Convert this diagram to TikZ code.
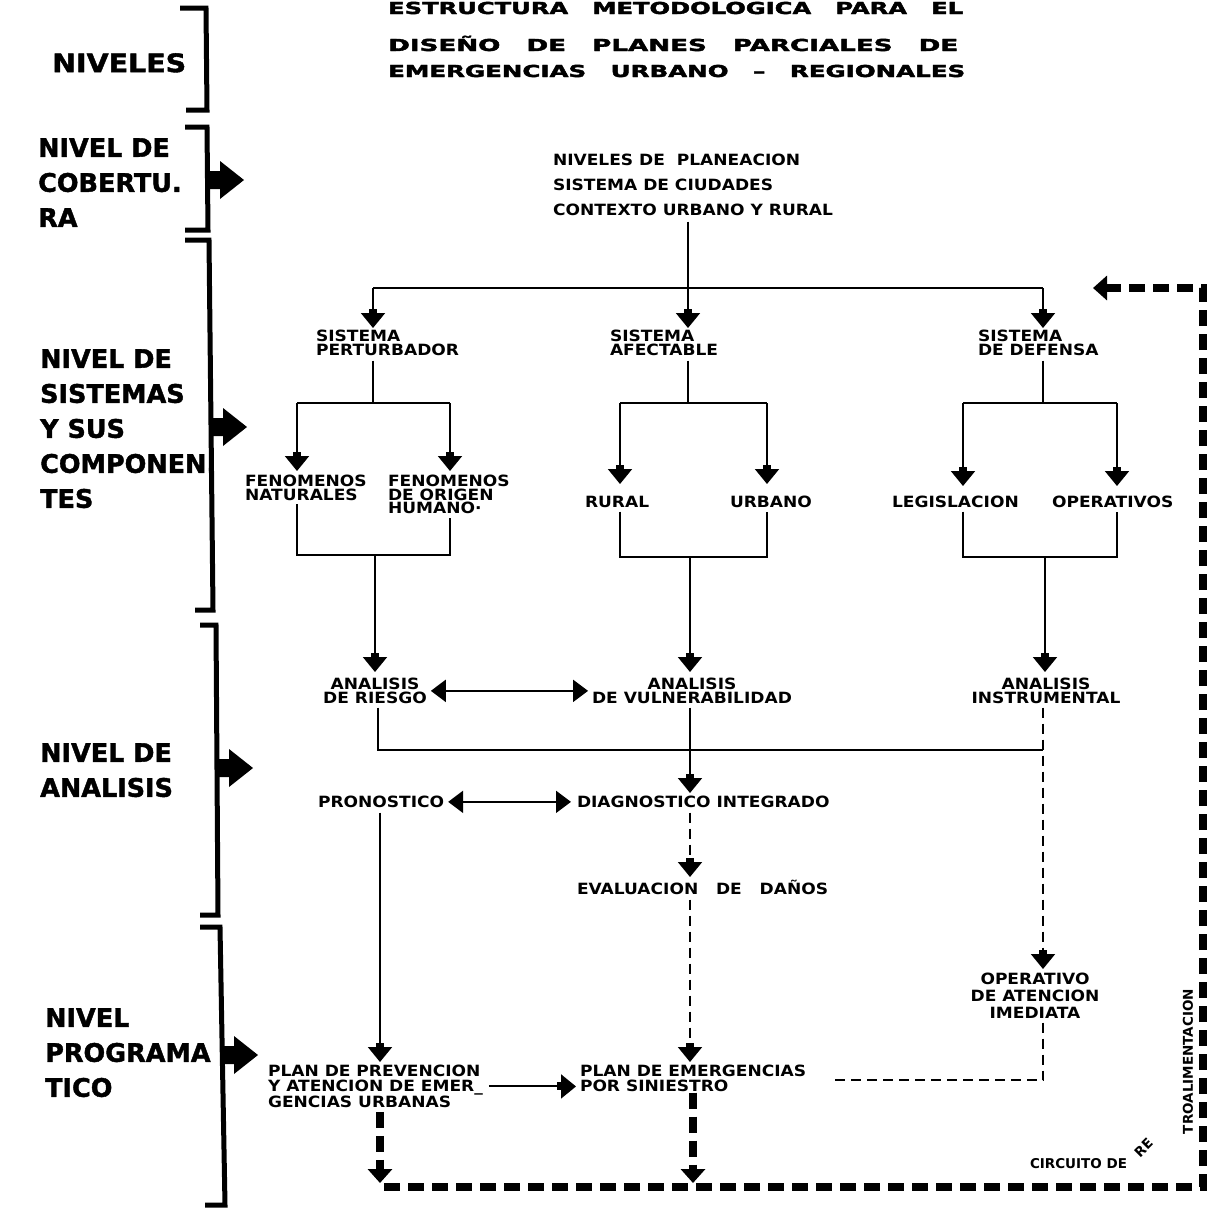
\documentclass[tikz,border=0pt]{standalone}
\usepackage{fontspec}
\usepackage{graphicx}
\usetikzlibrary{arrows.meta}
\newfontfamily\smf{DejaVu Sans}[FakeStretch=1.1]
\newfontfamily\smn{DejaVu Sans}
\newfontfamily\bgf{DejaVu Sans}[BoldFeatures={FakeBold=1.6}]
\newfontfamily\tif{DejaVu Sans}[BoldFeatures={FakeBold=2}]
\begin{document}
\begin{tikzpicture}[x=1pt,y=-1pt,
  txt/.style={inner sep=0pt, outer sep=0pt, align=left, anchor=north west, font=\smf\bfseries\fontsize{15.5}{#1}\selectfont},
  txt/.default=14,
  txtc/.style={txt=#1, align=center, anchor=north},
  txtc/.default=14,
  tsm/.style={inner sep=0pt, outer sep=0pt, font=\smn\bfseries\fontsize{13.5}{14}\selectfont},
  lbl/.style={inner sep=0pt, align=left, anchor=north west, font=\bgf\bfseries\fontsize{25.5}{35}\selectfont},
  ttl/.style={inner sep=0pt, anchor=base west, font=\tif\bfseries\fontsize{16.5}{16.5}\selectfont},
  brk/.style={line width=5pt},
  ln/.style={line width=2pt},
  dln/.style={line width=2pt, dash pattern=on 10pt off 6pt},
  arr/.style={line width=2pt, -{Rectangle[width=8pt,length=4pt,sep=0pt]Triangle[width=24pt,length=15pt]}},
  arrd/.style={arr, dash pattern=on 10pt off 6pt},
  darr/.style={line width=2pt, {Triangle[width=22pt,length=15pt]}-{Triangle[width=22pt,length=15pt]}},
  tdl/.style={line width=8pt, dash pattern=on 16pt off 8pt},
  tarr/.style={tdl, -{Triangle[width=24pt,length=14pt]}},
  barrow/.pic={\fill (0,-9) -- (12,-9) -- (12,-19) -- (36,0) -- (12,19) -- (12,9) -- (0,9) -- cycle;}
]
\useasboundingbox (0,0) rectangle (1219,1211);
\clip (0,0) rectangle (1219,1211);

% title
\node[ttl] (ti1) at (388,14) {\resizebox{575pt}{\height}{ESTRUCTURA\hskip1em METODOLOGICA\hskip1em PARA\hskip1em EL}};
\node[ttl] (ti2) at (388,51) {\resizebox{570pt}{\height}{DISEÑO\hskip1em DE\hskip1em PLANES\hskip1em PARCIALES\hskip1em DE}};
\node[ttl] (ti3) at (388,77) {\resizebox{577pt}{\height}{EMERGENCIAS\hskip1em URBANO\hskip1em –\hskip1em REGIONALES}};

% level labels
\node[lbl] (lv0) at (52,53) {\resizebox{134pt}{\height}{NIVELES}};
\node[lbl] (lv1) at (38,138) {NIVEL DE\\COBERTU.\\RA};
\node[lbl] (lv2) at (40,349) {NIVEL DE\\SISTEMAS\\Y SUS\\COMPONEN.\\TES};
\node[lbl] (lv3) at (40,743) {NIVEL DE\\ANALISIS};
\node[lbl] (lv4) at (45,1008) {NIVEL\\PROGRAMA\\TICO};

% brackets
\draw[brk] (180,8) -- (206,8) -- (207,110) -- (186,110);
\draw[brk] (185,127) -- (207,127) -- (208,230) -- (185,230);
\draw[brk] (185,240) -- (209,240) -- (213,610) -- (195,610);
\draw[brk] (200,625) -- (216,625) -- (218,915) -- (200,915);
\draw[brk] (200,927) -- (220,927) -- (225,1205) -- (205,1205);
\pic at (208,180) {barrow};
\pic at (211,427) {barrow};
\pic at (217,768) {barrow};
\pic at (222,1055) {barrow};

% nodes
\node[txt=25] (plan) at (553,154) {NIVELES DE\ \ PLANEACION\\SISTEMA DE CIUDADES\\CONTEXTO URBANO Y RURAL};
\node[txt] (sp) at (316,330) {SISTEMA\\PERTURBADOR};
\node[txt] (sa) at (610,330) {SISTEMA\\AFECTABLE};
\node[txt] (sd) at (978,330) {SISTEMA\\DE DEFENSA};
\node[txt=13.5] (fn) at (245,475) {FENOMENOS\\NATURALES};
\node[txt=13.5] (fh) at (388,475) {FENOMENOS\\DE ORIGEN\\HUMANO·};
\node[txt] (ru) at (585,496) {RURAL};
\node[txt] (ur) at (730,496) {URBANO};
\node[txt] (le) at (892,496) {LEGISLACION};
\node[txt] (op) at (1052,496) {OPERATIVOS};
\node[txtc] (ar) at (375,678) {ANALISIS\\DE RIESGO};
\node[txtc] (av) at (692,678) {ANALISIS\\DE VULNERABILIDAD};
\node[txtc] (ai) at (1046,678) {ANALISIS\\INSTRUMENTAL};
\node[txt] (pr) at (318,796) {PRONOSTICO};
\node[txt] (dg) at (577,796) {DIAGNOSTICO INTEGRADO};
\node[txt] (ev) at (577,880) {EVALUACION\ \ \ DE\ \ \ DAÑOS};
\node[txtc=17] (oa) at (1035,973) {OPERATIVO\\DE ATENCION\\IMEDIATA};
\node[txt=15] (pp) at (268,1065) {PLAN DE PREVENCION\\Y ATENCION DE EMER\_\\GENCIAS URBANAS};
\node[txt=15] (pe) at (580,1065) {PLAN DE EMERGENCIAS\\POR SINIESTRO};
\node[tsm, anchor=base west] (ci) at (1030,1168) {CIRCUITO DE};
\node[tsm, rotate=45, anchor=south west] (re) at (1140,1158) {RE};
\node[tsm, rotate=90, anchor=west] (ro) at (1188,1134) {TROALIMENTACION};

% top distribution
\coordinate (t0) at (688,288); \coordinate (tl) at (373,288); \coordinate (tr) at (1043,288);
\draw[ln] ([yshift=-6pt]plan.south -| t0) -- (t0);
\draw[ln] (tl) -- (tr);
\draw[arr] (tl) -- ([yshift=2pt]sp.north -| tl);
\draw[arr] (t0) -- ([yshift=2pt]sa.north -| t0);
\draw[arr] (tr) -- ([yshift=2pt]sd.north -| tr);

% perturbador
\coordinate (a1) at (373,403); \coordinate (a1l) at (297,403); \coordinate (a1r) at (450,403);
\draw[ln] ([yshift=-5pt]sp.south -| a1) -- (a1);
\draw[ln] (a1l) -- (a1r);
\draw[arr] (a1l) -- ([yshift=4pt]fn.north -| a1l);
\draw[arr] (a1r) -- ([yshift=4pt]fh.north -| a1r);
% afectable
\coordinate (a2) at (688,403); \coordinate (a2l) at (620,403); \coordinate (a2r) at (767,403);
\draw[ln] ([yshift=-5pt]sa.south -| a2) -- (a2);
\draw[ln] (a2l) -- (a2r);
\draw[arr] (a2l) -- ([yshift=12pt]ru.north -| a2l);
\draw[arr] (a2r) -- ([yshift=12pt]ur.north -| a2r);
% defensa
\coordinate (a3) at (1043,403); \coordinate (a3l) at (963,403); \coordinate (a3r) at (1117,403);
\draw[ln] ([yshift=-5pt]sd.south -| a3) -- (a3);
\draw[ln] (a3l) -- (a3r);
\draw[arr] (a3l) -- ([yshift=10pt]le.north -| a3l);
\draw[arr] (a3r) -- ([yshift=10pt]op.north -| a3r);

% merges
\coordinate (b1) at (375,555); \coordinate (b1l) at (297,555); \coordinate (b1r) at (450,555);
\draw[ln] ([yshift=-4pt]fn.south -| b1l) -- (b1l) -- (b1r) -- ([yshift=-4pt]fh.south -| b1r);
\draw[arr] (b1) -- ([yshift=6pt]ar.north -| b1);
\coordinate (b2) at (690,557); \coordinate (b2l) at (620,557); \coordinate (b2r) at (767,557);
\draw[ln] ([yshift=-4pt]ru.south -| b2l) -- (b2l) -- (b2r) -- ([yshift=-4pt]ur.south -| b2r);
\draw[arr] (b2) -- ([yshift=6pt]av.north -| b2);
\coordinate (b3) at (1045,557); \coordinate (b3l) at (963,557); \coordinate (b3r) at (1117,557);
\draw[ln] ([yshift=-4pt]le.south -| b3l) -- (b3l) -- (b3r) -- ([yshift=-4pt]op.south -| b3r);
\draw[arr] (b3) -- ([yshift=6pt]ai.north -| b3);

% analysis level
\draw[darr] ([xshift=4pt]ar.east) -- ([xshift=-4pt]av.west);
\coordinate (c0) at (690,750); \coordinate (c1) at (378,750); \coordinate (c2) at (1043,750);
\draw[ln] ([yshift=-4pt]ar.south -| c1) -- (c1) -- (c2);
\draw[arr] ([yshift=-4pt]av.south -| c0) -- ([yshift=3pt]dg.north -| c0);
\draw[arrd] ([yshift=-4pt]ai.south -| c2) -- ([yshift=4pt]oa.north -| c2);
\draw[darr] ([xshift=4pt]pr.east) -- ([xshift=-6pt]dg.west);
\coordinate (d1) at (380,1000); \coordinate (d2) at (690,900);
\draw[arr] ([yshift=-5pt]pr.south -| d1) -- ([yshift=3pt]pp.north -| d1);
\draw[arrd] ([yshift=-5pt]dg.south -| d2) -- ([yshift=3pt]ev.north -| d2);
\draw[arrd] ([yshift=-5pt]ev.south -| d2) -- ([yshift=3pt]pe.north -| d2);

% programmatic level
\draw[arr] ([xshift=6pt]pp.east) -- ([xshift=-4pt]pe.west |- pp.east);
\coordinate (e1) at (1043,1080); \coordinate (e2) at (835,1080);
\draw[dln] ([yshift=-4pt]oa.south -| e1) -- (e1) -- (e2);

% feedback circuit
\coordinate (f1) at (380,1187); \coordinate (f2) at (693,1187); \coordinate (f3) at (1203,1187);
\coordinate (f4) at (1203,288); \coordinate (f5) at (1093,288);
\draw[tarr] ([yshift=-4pt]pp.south -| f1) -- ([yshift=4pt]f1);
\draw[tarr] ([yshift=-1pt]pe.south -| f2) -- ([yshift=4pt]f2);
\draw[tarr] ([xshift=4pt]f1) -- (f3) -- (f4) -- (f5);
\end{tikzpicture}
\end{document}
